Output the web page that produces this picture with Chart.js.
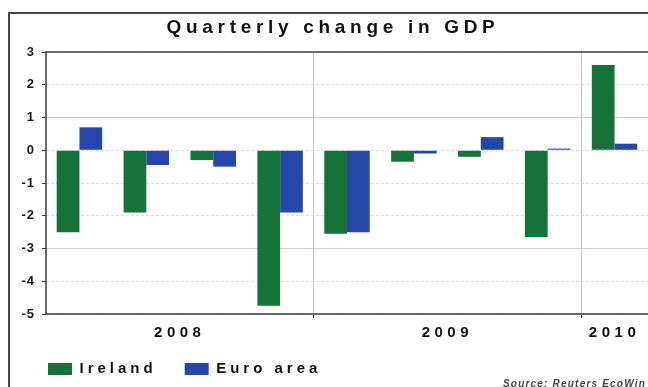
<!DOCTYPE html>
<html>
<head>
<meta charset="utf-8">
<title>Quarterly change in GDP</title>
<script src="https://cdn.jsdelivr.net/npm/chart.js@4"></script>
<style>
  html, body { margin: 0; padding: 0; background: #ffffff; overflow: hidden; }
  #wrap { width: 648px; height: 387px; }
</style>
</head>
<body>
<div id="wrap"><canvas id="gdp" width="648" height="387"></canvas></div>
<script>
// Quarter-on-quarter GDP change, %
const quarters = ['2008 Q1', '2008 Q2', '2008 Q3', '2008 Q4', '2009 Q1', '2009 Q2', '2009 Q3', '2009 Q4', '2010 Q1'];
const ireland  = [-2.5, -1.9, -0.3, -4.75, -2.55, -0.35, -0.2, -2.65, 2.6];
const euroArea = [0.7, -0.45, -0.5, -1.9, -2.5, -0.1, 0.4, 0.05, 0.2];
const yTicks   = [3, 2, 1, 0, -1, -2, -3, -4, -5];
const seriesNames = ['Ireland', 'Euro area'];
const titleText  = 'Quarterly change in GDP';
const sourceText = 'Source: Reuters EcoWin';

// Year of each quarter, the list of years, and the centre (in quarter units) of each year
const quarterYears = quarters.map(q => q.slice(0, 4));
const yearNames = [...new Set(quarterYears)];
const yearCentres = yearNames.map(y => {
  const idx = quarterYears.map((v, i) => (v === y ? i : -1)).filter(i => i >= 0);
  return idx.reduce((a, b) => a + b, 0) / idx.length;
});
const startsYear = i => i > 0 && i < quarters.length && quarterYears[i] !== quarterYears[i - 1];

const GREEN = '#177238';
const BLUE = '#2447a8';
const FONT = '"Liberation Sans", Arial, sans-serif';

// Draw a method of a chart element with letter spacing (and an optional shift)
function spaced(obj, method, spacing, dx = 0, dy = 0) {
  const orig = obj[method];
  obj[method] = function (...args) {
    const c = this.ctx;
    c.save();
    c.letterSpacing = spacing;
    if (dx || dy) c.translate(dx, dy);
    const r = orig.apply(this, args);
    c.restore();
    return r;
  };
}

const decor = {
  id: 'decor',
  beforeLayout(chart) {
    if (chart.$spaced) return;
    chart.$spaced = true;
    spaced(chart.titleBlock, 'draw', '4.7px', 9, 0);
    const legend = chart.legend;
    const fit = legend.fit;
    legend.fit = function () {
      const c = this.ctx;
      c.save();
      c.letterSpacing = '4px';
      fit.call(this);
      c.restore();
      this.height = 45;
    };
    spaced(legend, 'draw', '4px', 20, -8.5);
    spaced(chart.scales.y, 'drawLabels', '1px');
    spaced(chart.scales.xYear, 'drawLabels', '4.5px');
  },
  beforeDraw(chart) {
    const c = chart.ctx;
    c.save();
    c.fillStyle = '#ffffff';
    c.fillRect(0, 0, chart.width, chart.height);
    // outer panel frame
    c.strokeStyle = '#4a4a4a';
    c.lineWidth = 2;
    c.strokeRect(9, 13, chart.width + 40, chart.height + 40);
    c.restore();
  },
  beforeDatasetsDraw(chart) {
    const a = chart.chartArea;
    const c = chart.ctx;
    c.save();
    c.strokeStyle = '#3c3c3c';
    c.lineWidth = 1.5;
    c.beginPath();
    c.moveTo(a.right + 2, a.top);
    c.lineTo(a.left, a.top);
    c.lineTo(a.left, a.bottom);
    c.lineTo(a.right + 2, a.bottom);
    c.stroke();
    c.restore();
  },
  afterDraw(chart) {
    const c = chart.ctx;
    c.save();
    c.letterSpacing = '1.2px';
    c.font = 'italic bold 10px ' + FONT;
    c.fillStyle = '#444444';
    c.textAlign = 'left';
    c.textBaseline = 'alphabetic';
    c.fillText(sourceText, 503, 387);
    c.restore();
  }
};

// Solid rose lines at 1 and -3, fainter dashed lines elsewhere
const strongLine = v => v === 1 || v === -3;

new Chart(document.getElementById('gdp'), {
  type: 'bar',
  data: {
    labels: quarters,
    datasets: [
      { label: seriesNames[0], data: ireland, backgroundColor: GREEN, borderColor: GREEN, borderWidth: 0 },
      { label: seriesNames[1], data: euroArea, backgroundColor: BLUE, borderColor: BLUE, borderWidth: 0 }
    ]
  },
  options: {
    responsive: false,
    devicePixelRatio: 1,
    animation: false,
    categoryPercentage: 0.68,
    barPercentage: 1.0,
    layout: { padding: { left: 0, right: 0, top: 0, bottom: 0 } },
    plugins: {
      title: {
        display: true,
        text: titleText,
        color: '#111111',
        font: { family: FONT, size: 19, weight: 'bold', lineHeight: 1.2 },
        padding: { top: 16.6, bottom: 12.6 }
      },
      legend: {
        display: true,
        position: 'bottom',
        align: 'start',
        labels: {
          boxWidth: 24,
          boxHeight: 12,
          padding: 28,
          color: '#111111',
          font: { family: FONT, size: 15, weight: 'bold' }
        }
      },
      tooltip: { enabled: false }
    },
    scales: {
      // quarter axis carrying the bars; its grid marks the turn of each year
      x: {
        type: 'category',
        position: 'bottom',
        weight: 1,
        offset: true,
        afterFit: scale => { scale.height = 4; },
        ticks: { display: false },
        border: { display: false },
        grid: {
          offset: true,
          drawTicks: true,
          tickLength: 4,
          lineWidth: 1,
          color: ctx => (startsYear(ctx.index) ? '#c4c4c4' : 'rgba(0,0,0,0)'),
          tickColor: ctx => (startsYear(ctx.index) ? '#333333' : 'rgba(0,0,0,0)')
        }
      },
      // year labels, each centred on its own quarters
      xYear: {
        type: 'category',
        position: 'bottom',
        weight: 2,
        offset: true,
        afterBuildTicks: scale => { scale.ticks = yearCentres.map(v => ({ value: v })); },
        afterFit: scale => { scale.height = 24; },
        grid: { display: false, drawTicks: false, tickLength: 0 },
        border: { display: false },
        ticks: {
          autoSkip: false,
          maxRotation: 0,
          padding: 6,
          color: '#111111',
          font: { family: FONT, size: 15, weight: 'bold', lineHeight: 1.2 },
          callback: (value, index) => yearNames[index]
        }
      },
      y: {
        min: Math.min(...yTicks),
        max: Math.max(...yTicks),
        afterFit: scale => { scale.width = 46; },
        border: {
          display: false,
          dash: ctx => (ctx.tick && !strongLine(ctx.tick.value) ? [3, 2] : [])
        },
        grid: {
          color: ctx => (ctx.tick && strongLine(ctx.tick.value) ? '#dccac7' : '#e4dcdc'),
          lineWidth: 1,
          drawTicks: true,
          tickLength: 4,
          tickColor: '#333333'
        },
        ticks: {
          stepSize: 1,
          padding: 7,
          color: '#1a1a1a',
          font: { family: FONT, size: 13, weight: 'bold' }
        }
      }
    }
  },
  plugins: [decor]
});
</script>
</body>
</html>
